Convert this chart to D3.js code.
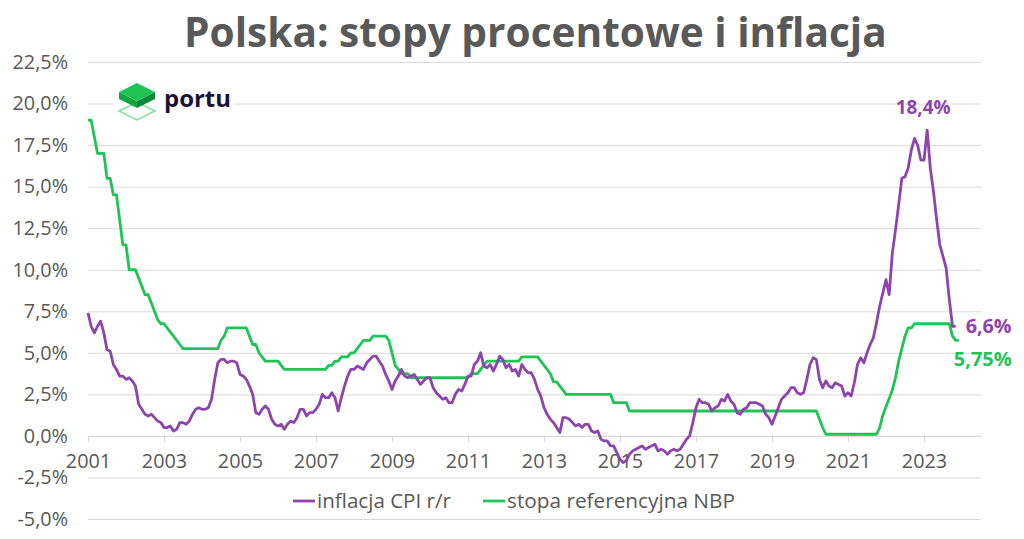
<!DOCTYPE html>
<html><head><meta charset="utf-8">
<script src="https://cdn.jsdelivr.net/npm/d3@7"></script>
<style>body{margin:0;background:#fff;} svg{display:block;font-family:"Open Sans",sans-serif;}</style>
</head><body><svg id="c" width="1024" height="539"></svg>
<script>
const startYear = 2001;
// CPI y/y, monthly from Jan 2001
const cpi = [
  7.4,6.6,6.2,6.6,6.9,6.2,5.2,5.1,4.3,4.0,3.6,3.6,
  3.4,3.5,3.3,3.0,1.9,1.6,1.3,1.2,1.3,1.1,0.9,0.8,
  0.5,0.5,0.6,0.3,0.4,0.8,0.8,0.7,0.9,1.3,1.6,1.7,
  1.6,1.6,1.7,2.2,3.4,4.4,4.6,4.6,4.4,4.5,4.5,4.4,
  3.7,3.6,3.4,3.0,2.5,1.4,1.3,1.6,1.8,1.6,1.0,0.7,
  0.6,0.7,0.4,0.7,0.9,0.8,1.1,1.6,1.6,1.2,1.4,1.4,
  1.6,1.9,2.5,2.3,2.3,2.6,2.3,1.5,2.3,3.0,3.6,4.0,
  4.0,4.2,4.1,4.0,4.4,4.6,4.8,4.8,4.5,4.2,3.7,3.3,
  2.8,3.3,3.6,4.0,3.6,3.5,3.6,3.7,3.4,3.1,3.3,3.5,
  3.5,2.9,2.6,2.4,2.2,2.3,2.0,2.0,2.5,2.8,2.7,3.1,
  3.6,3.6,4.3,4.5,5.0,4.2,4.1,4.3,3.9,4.3,4.8,4.6,
  4.1,4.3,3.9,4.0,3.6,4.3,4.0,3.8,3.8,3.4,2.8,2.4,
  1.7,1.3,1.0,0.8,0.5,0.2,1.1,1.1,1.0,0.8,0.6,0.7,
  0.5,0.7,0.7,0.3,0.2,0.3,-0.2,-0.3,-0.3,-0.6,-0.6,-1.0,
  -1.4,-1.6,-1.5,-1.1,-0.9,-0.8,-0.7,-0.6,-0.8,-0.7,-0.6,-0.5,
  -0.9,-0.8,-0.9,-1.1,-0.9,-0.8,-0.9,-0.8,-0.5,-0.2,0.0,0.8,
  1.7,2.2,2.0,2.0,1.9,1.5,1.7,1.8,2.2,2.1,2.5,2.1,
  1.9,1.4,1.3,1.6,1.7,2.0,2.0,2.0,1.9,1.8,1.3,1.1,
  0.7,1.2,1.7,2.2,2.4,2.6,2.9,2.9,2.6,2.5,2.6,3.4,
  4.3,4.7,4.6,3.4,2.9,3.3,3.0,2.9,3.2,3.1,3.0,2.4,
  2.6,2.4,3.2,4.3,4.7,4.4,5.0,5.5,5.9,6.8,7.8,8.6,
  9.4,8.5,11.0,12.4,13.9,15.5,15.6,16.1,17.2,17.9,17.5,16.6,
  16.6,18.4,16.1,14.7,13.0,11.5,10.8,10.1,8.2,6.6,6.6
];
// NBP reference rate, monthly from Jan 2001
const rate = [
  19,19,18,17,17,17,15.5,15.5,14.5,14.5,13,11.5,
  11.5,10,10,10,9.5,9,8.5,8.5,8,7.5,7,6.75,
  6.75,6.5,6.25,6,5.75,5.5,5.25,5.25,5.25,5.25,5.25,5.25,
  5.25,5.25,5.25,5.25,5.25,5.25,5.75,6,6.5,6.5,6.5,6.5,
  6.5,6.5,6.5,6,5.5,5.5,5,4.75,4.5,4.5,4.5,4.5,
  4.5,4.25,4,4,4,4,4,4,4,4,4,4,
  4,4,4,4,4.25,4.25,4.5,4.5,4.75,4.75,4.75,5,
  5,5.25,5.5,5.75,5.75,5.75,6,6,6,6,6,5.75,
  5,4.25,4,3.75,3.75,3.75,3.5,3.5,3.5,3.5,3.5,3.5,
  3.5,3.5,3.5,3.5,3.5,3.5,3.5,3.5,3.5,3.5,3.5,3.5,
  3.5,3.75,3.75,3.75,4,4.25,4.5,4.5,4.5,4.5,4.5,4.5,
  4.5,4.5,4.5,4.5,4.5,4.75,4.75,4.75,4.75,4.75,4.75,4.5,
  4.25,4,3.75,3.25,3.25,3,2.75,2.5,2.5,2.5,2.5,2.5,
  2.5,2.5,2.5,2.5,2.5,2.5,2.5,2.5,2.5,2.5,2,2,
  2,2,2,1.5,1.5,1.5,1.5,1.5,1.5,1.5,1.5,1.5,
  1.5,1.5,1.5,1.5,1.5,1.5,1.5,1.5,1.5,1.5,1.5,1.5,
  1.5,1.5,1.5,1.5,1.5,1.5,1.5,1.5,1.5,1.5,1.5,1.5,
  1.5,1.5,1.5,1.5,1.5,1.5,1.5,1.5,1.5,1.5,1.5,1.5,
  1.5,1.5,1.5,1.5,1.5,1.5,1.5,1.5,1.5,1.5,1.5,1.5,
  1.5,1.5,1.5,1,0.5,0.1,0.1,0.1,0.1,0.1,0.1,0.1,
  0.1,0.1,0.1,0.1,0.1,0.1,0.1,0.1,0.1,0.1,0.5,1.25,
  1.75,2.25,2.75,3.5,4.5,5.25,6,6.5,6.5,6.75,6.75,6.75,
  6.75,6.75,6.75,6.75,6.75,6.75,6.75,6.75,6.75,6,5.75,5.75
];
const xTickLabels = ["2001","2003","2005","2007","2009","2011","2013","2015","2017","2019","2021","2023"];
const yTicks = [-5,-2.5,0,2.5,5,7.5,10,12.5,15,17.5,20,22.5];
const seriesNames = ["inflacja CPI r/r","stopa referencyjna NBP"];
const titleText = "Polska: stopy procentowe i inflacja";
const logoText = "portu";

const COL_CPI = "#8e44ad", COL_RATE = "#1fc457", GRAY = "#595959", GRID = "#d9d9d9";
const svg = d3.select("#c");
const L = 88, R = 981;
const x = d3.scaleLinear().domain([0, 282]).range([L, R]);
const y = d3.scaleLinear().domain([-5, 22.5]).range([519, 62]);

function pct(v, dec){ return (v<0?"-":"") + Math.abs(v).toFixed(dec).replace(".", ",") + "%"; }
function fit(sel, w){ const n = sel.node(); const base = parseFloat(sel.attr("font-size")); const m = n.getComputedTextLength(); sel.attr("font-size", base * w / m); }

// title
const t = svg.append("text").attr("x", 184).attr("y", 47).attr("font-size", 34).attr("font-weight", 700)
  .attr("fill", GRAY).text(titleText);
fit(t, 703);

// grid + y labels
const gy = svg.append("g").attr("transform", `translate(${L},0)`)
  .call(d3.axisLeft(y).tickValues(yTicks).tickSize(-(R-L)).tickPadding(20).tickFormat(v => pct(v,1)));
gy.select(".domain").remove();
gy.selectAll(".tick line").attr("stroke", GRID).attr("stroke-width", 1);
gy.selectAll(".tick text").attr("fill", GRAY).attr("font-size", 18).attr("font-family", '"Open Sans",sans-serif');
const sizeY = (() => { const s = gy.selectAll(".tick text").filter(d => d === 20); const m = s.node().getComputedTextLength(); return 18 * 55.5 / m; })();
gy.selectAll(".tick text").attr("font-size", sizeY);

// x axis at 0
const gx = svg.append("g").attr("transform", `translate(0,${y(0)})`)
  .call(d3.axisBottom(x).tickValues(xTickLabels.map(s => (+s - startYear) * 12)).tickSize(6).tickSizeOuter(0)
    .tickFormat(v => xTickLabels[v / 24]));
gx.select(".domain").attr("stroke", GRID).attr("stroke-width", 1.2);
gx.selectAll(".tick line").attr("stroke", GRID).attr("stroke-width", 1.2);
gx.selectAll(".tick text").attr("fill", GRAY).attr("font-size", sizeY).attr("y", 32).attr("dy", null)
  .attr("font-family", '"Open Sans",sans-serif');

// logo
const logo = svg.append("g");
logo.append("rect").attr("x", 113).attr("y", 80).attr("width", 122).attr("height", 44).attr("fill", "#fff");
logo.append("polygon").attr("points", "119,111 137,102 155,111 137,120").attr("fill", "none").attr("stroke", "#7fe0a0").attr("stroke-width", 1.4);
logo.append("polygon").attr("points", "119,92 137,101 137,108 119,99").attr("fill", "#12a544");
logo.append("polygon").attr("points", "137,101 155,92 155,99 137,108").attr("fill", "#0d8a37");
logo.append("polygon").attr("points", "119,92 137,83 155,92 137,101").attr("fill", "#1fc457");
const lt = logo.append("text").attr("x", 164).attr("y", 106.5).attr("font-size", 25).attr("font-weight", 700)
  .attr("fill", "#1c1238").text(logoText);
fit(lt, 67);

// lines
const line = d3.line().x((d, i) => x(i)).y(d => y(d));
svg.append("path").datum(rate).attr("d", line).attr("fill", "none").attr("stroke", COL_RATE)
  .attr("stroke-width", 2.8).attr("stroke-linejoin", "round");
svg.append("path").datum(cpi).attr("d", line).attr("fill", "none").attr("stroke", COL_CPI)
  .attr("stroke-width", 2.8).attr("stroke-linejoin", "round");

// annotations
const peakI = d3.maxIndex(cpi);
const pk = svg.append("text").attr("text-anchor", "middle").attr("x", x(peakI) - 4).attr("y", y(cpi[peakI]) - 16)
  .attr("font-size", 18).attr("font-weight", 700).attr("fill", COL_CPI).text(pct(cpi[peakI], 1));
fit(pk, 55);
const lc = cpi.length - 1, lr = rate.length - 1;
const a1 = svg.append("text").attr("x", x(lc) + 10).attr("y", y(cpi[lc]) + 7)
  .attr("font-size", 18).attr("font-weight", 700).attr("fill", COL_CPI).text(pct(cpi[lc], 1));
fit(a1, 46);
const a2 = svg.append("text").attr("x", x(lr) - 5).attr("y", y(rate[lr]) + 26)
  .attr("font-size", 18).attr("font-weight", 700).attr("fill", COL_RATE).text(pct(rate[lr], 2));
fit(a2, 58);

// legend
const leg = [{name: seriesNames[0], col: COL_CPI, x0: 293}, {name: seriesNames[1], col: COL_RATE, x0: 483}];
const lw = [134, 228];
leg.forEach((d, i) => {
  svg.append("line").attr("x1", d.x0).attr("x2", d.x0 + 22).attr("y1", 501).attr("y2", 501)
    .attr("stroke", d.col).attr("stroke-width", 2.8);
  const tx = svg.append("text").attr("x", d.x0 + 24).attr("y", 507.5).attr("font-size", 18)
    .attr("fill", GRAY).text(d.name);
  fit(tx, lw[i]);
});
</script></body></html>
